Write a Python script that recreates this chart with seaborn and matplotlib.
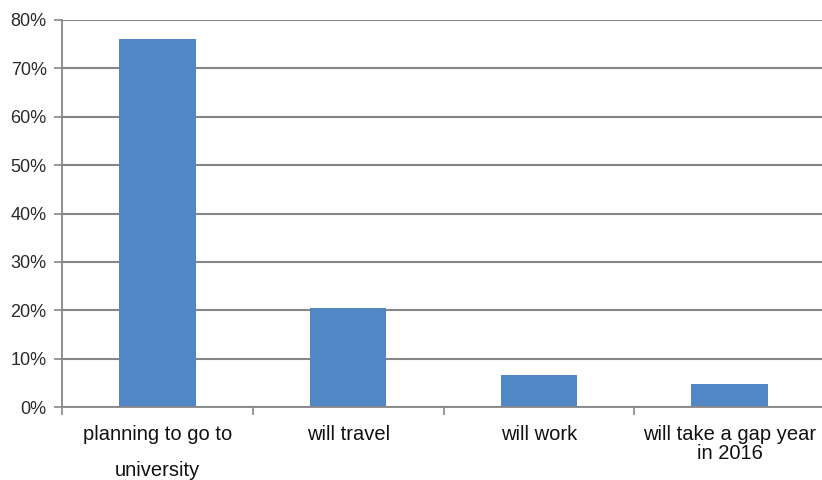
import matplotlib
matplotlib.use("Agg")
import matplotlib.pyplot as plt
import seaborn as sns
import pandas as pd
from matplotlib.ticker import FuncFormatter, FixedLocator

categories = ["planning to go to\nuniversity", "will travel", "will work", "will take a gap year\nin 2016"]
values = [76.0, 20.5, 6.6, 4.8]
yticks = [0, 10, 20, 30, 40, 50, 60, 70, 80]

sns.set_theme(style="white")
plt.rcParams['font.family'] = ['Liberation Sans Narrow', 'Liberation Sans', 'DejaVu Sans']
plt.rcParams['font.stretch'] = 'condensed'

df = pd.DataFrame({"cat": categories, "val": values})

fig = plt.figure(figsize=(8.22, 4.8), dpi=100)
ax = fig.add_axes([62/822, 1-407/480, (825-62)/822, 387/480])
sns.barplot(data=df, x="cat", y="val", color="#5287C6", width=0.4, ax=ax,
            saturation=1, linewidth=0, edgecolor="#5287C6")

ax.set_xlim(-0.5, 3.5)
ax.set_ylim(0, 80)
ax.set_yticks(yticks)
ax.yaxis.set_major_formatter(FuncFormatter(lambda v, p: f"{int(v)}%"))
ax.grid(axis="y", color="#868686", linewidth=1.5)
ax.set_axisbelow(True)
ax.set_xlabel("")
ax.set_ylabel("")

for s in ["top", "right"]:
    ax.spines[s].set_visible(False)
for s in ["left", "bottom"]:
    ax.spines[s].set_color("#868686")
    ax.spines[s].set_linewidth(1.3)

ax.tick_params(axis="y", which="major", length=6, width=1.2, color="#868686",
               labelsize=13, labelcolor="#2a2a2a", pad=5, left=True)
ax.tick_params(axis="x", which="major", length=0, labelsize=14.5, labelcolor="#111111", pad=13)
ax.xaxis.set_minor_locator(FixedLocator([-0.5, 0.5, 1.5, 2.5, 3.5]))
ax.tick_params(axis="x", which="minor", length=6, width=1.2, color="#868686", bottom=True)

labels = ax.get_xticklabels()
labels[0].set_linespacing(2.15)
labels[3].set_linespacing(1.0)
for lb in labels:
    lb.set_verticalalignment("top")

fig.savefig("out.png", dpi=100, facecolor="white")
